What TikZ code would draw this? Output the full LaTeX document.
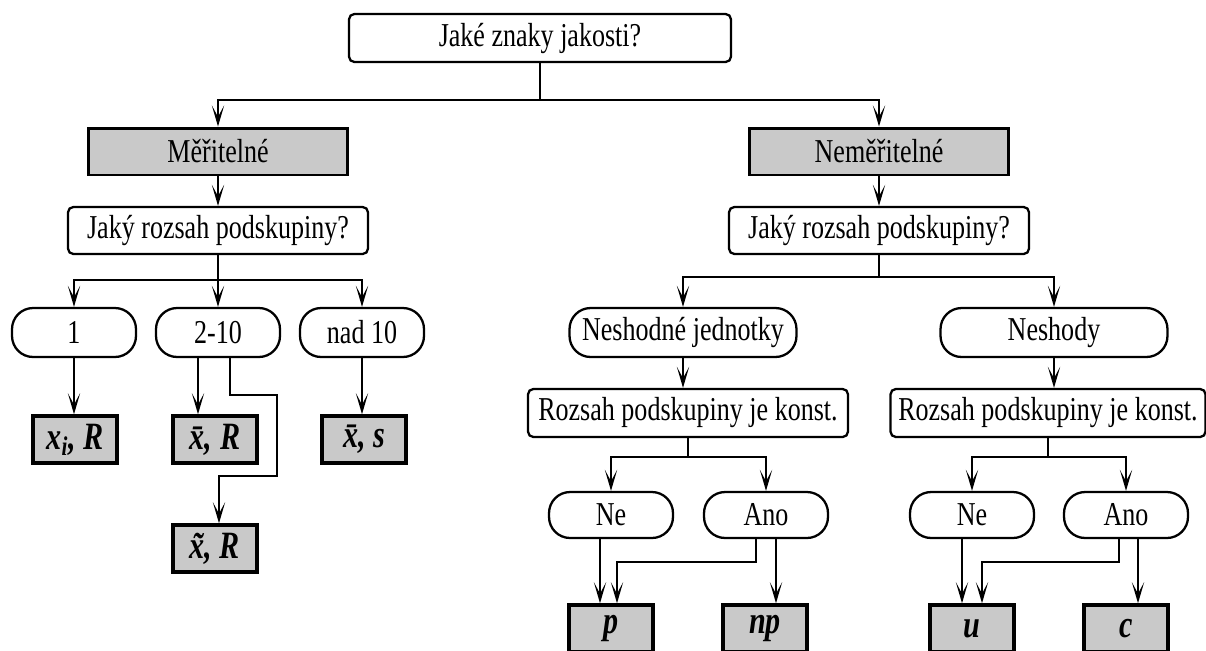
\documentclass[tikz,border=0pt]{standalone}
\usepackage{amsmath}
\usepackage{fontspec}
\setmainfont{Liberation Serif}[FakeStretch=0.78]
\usepackage{tikz}
\usetikzlibrary{arrows.meta}
\definecolor{boxGrey}{HTML}{C9C9C9}
\newcommand{\sym}[1]{\textbf{\textit{#1}}}

\begin{document}
\begin{tikzpicture}[x=0.02cm, y=-0.02cm, font={\fontsize{19}{22}\selectfont},
  >={Stealth[length=12pt, width=7pt, inset=6.5pt]},
  ask/.style={draw, line width=1.3pt, rounded corners=3pt, inner sep=2pt},
  opt/.style={draw, line width=1.3pt, rounded corners=12pt, minimum width=2.48cm, minimum height=0.98cm, inner sep=2pt},
  cat/.style={draw, line width=1.7pt, fill=boxGrey, minimum width=5.2cm, minimum height=0.94cm},
  res/.style={draw, line width=2pt, fill=boxGrey, minimum width=1.68cm, minimum height=0.94cm, font={\fontsize{22}{24}\selectfont}},
  link/.style={line width=1pt},
  arr/.style={link, ->}]
  \useasboundingbox (0,0) rectangle (1206,650);
  % top question
  \node[ask, minimum width=7.64cm, minimum height=0.96cm] (top) at (540,38) {Jaké znaky jakosti?};
  \node[cat] (mer) at (218,151.5) {Měřitelné};
  \node[cat] (nemer) at (879,151.5) {Neměřitelné};
  \draw[link] (top.south) -- (540,100) coordinate (s0);
  \draw[arr] (s0) -| (mer.north);
  \draw[arr] (s0) -| (nemer.north);
  % measurable branch
  \node[ask, minimum width=6cm, minimum height=0.94cm] (jak1) at (218,230.5) {Jaký rozsah podskupiny?};
  \draw[arr] (mer) -- (jak1);
  \node[opt] (n1) at (74,332.5) {1};
  \node[opt] (n210) at (218,332.5) {2-10};
  \node[opt] (nad) at (362,332.5) {nad 10};
  \draw[link] (jak1.south) -- (218,280) coordinate (s1);
  \draw[arr] (s1) -| (n1.north);
  \draw[arr] (s1) -- (n210.north);
  \draw[arr] (s1) -| (nad.north);
  \node[res] (r1) at (75,439.5) {\sym{x\textsubscript{i}, R}};
  \node[res] (r2) at (215,439.5) {\sym{\={x}, R}};
  \node[res] (r3) at (364,439.5) {\sym{\={x}, s}};
  \node[res] (r4) at (215,548.5) {\sym{\~{x}, R}};
  \draw[arr] (n1.south) -- (n1.south |- r1.north);
  \draw[arr] ([xshift=-0.4cm]n210.south) -- ([xshift=-0.4cm]n210.south |- r2.north);
  \draw[arr] ([xshift=0.24cm]n210.south) |- (277,395) -- (277,476) -| ([xshift=0.08cm]r4.north);
  \draw[arr] (nad.south) -- (nad.south |- r3.north);
  % non-measurable branch
  \node[ask, minimum width=6cm, minimum height=0.94cm] (jak2) at (879,230.5) {Jaký rozsah podskupiny?};
  \draw[arr] (nemer) -- (jak2);
  \node[opt, minimum width=4.54cm] (nesh) at (683,332.5) {Neshodné jednotky};
  \node[opt, minimum width=4.54cm] (neshody) at (1054,332.5) {Neshody};
  \draw[link] (jak2.south) -- (879,277) coordinate (s2);
  \draw[arr] (s2) -| (nesh.north);
  \draw[arr] (s2) -| (neshody.north);
  \node[ask, minimum width=6.4cm, minimum height=0.96cm] (roz1) at (688,413) {Rozsah podskupiny je konst.};
  \node[ask, minimum width=6.3cm, minimum height=0.96cm] (roz2) at (1048,413) {Rozsah podskupiny je konst.};
  \draw[arr] (nesh.south) -- (nesh.south |- roz1.north);
  \draw[arr] (neshody.south) -- (neshody.south |- roz2.north);
  \node[opt, minimum height=0.92cm] (ne1) at (611,515) {Ne};
  \node[opt, minimum height=0.92cm] (ano1) at (766,515) {Ano};
  \node[opt, minimum height=0.92cm] (ne2) at (972,515) {Ne};
  \node[opt, minimum height=0.92cm] (ano2) at (1126,515) {Ano};
  \draw[link] (roz1.south) -- (688,457) coordinate (s3);
  \draw[arr] (s3) -| (ne1.north);
  \draw[arr] (s3) -| (ano1.north);
  \draw[link] (roz2.south) -- (1048,457) coordinate (s4);
  \draw[arr] (s4) -| (ne2.north);
  \draw[arr] (s4) -| (ano2.north);
  \node[res] (p) at (611,628.5) {\sym{p}};
  \node[res] (np) at (765,628.5) {\sym{np}};
  \node[res] (u) at (972,628.5) {\sym{u}};
  \node[res] (c) at (1126,628.5) {\sym{c}};
  \draw[arr] ([xshift=-0.22cm]ne1.south) -- ([xshift=-0.22cm]ne1.south |- p.north);
  \draw[arr] ([xshift=-0.2cm]ano1.south) |- (617,562) -- ([xshift=0.12cm]p.north);
  \draw[arr] ([xshift=0.2cm]ano1.south) -- ([xshift=0.2cm]ano1.south |- np.north);
  \draw[arr] ([xshift=-0.2cm]ne2.south) -- ([xshift=-0.2cm]ne2.south |- u.north);
  \draw[arr] ([xshift=-0.14cm]ano2.south) |- (982,562) -- ([xshift=0.2cm]u.north);
  \draw[arr] ([xshift=0.24cm]ano2.south) -- ([xshift=0.24cm]ano2.south |- c.north);
\end{tikzpicture}
\end{document}
